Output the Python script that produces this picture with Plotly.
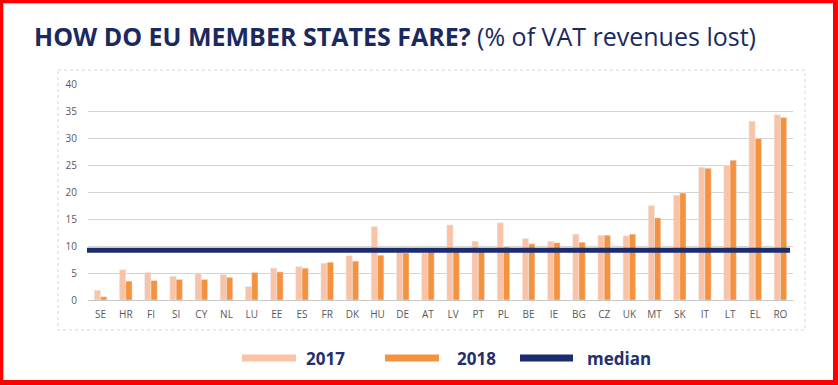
import plotly.graph_objects as go

countries = ["SE", "HR", "FI", "SI", "CY", "NL", "LU", "EE", "ES", "FR", "DK", "HU", "DE", "AT",
             "LV", "PT", "PL", "BE", "IE", "BG", "CZ", "UK", "MT", "SK", "IT", "LT", "EL", "RO"]
gap_2017 = [1.8, 5.6, 5.1, 4.4, 5.0, 4.7, 2.5, 5.9, 6.2, 6.8, 8.2, 13.6, 9.0, 8.7,
            13.9, 10.9, 14.3, 11.4, 10.9, 12.2, 12.0, 11.9, 17.5, 19.4, 24.6, 24.9, 33.1, 34.3]
gap_2018 = [0.6, 3.5, 3.6, 3.8, 3.8, 4.2, 5.1, 5.2, 5.9, 7.0, 7.2, 8.3, 8.7, 8.9,
            9.3, 9.5, 9.8, 10.4, 10.6, 10.7, 12.0, 12.2, 15.2, 19.8, 24.4, 25.9, 29.9, 33.8]
median_value = 9.2
y_ticks = [0, 5, 10, 15, 20, 25, 30, 35, 40]
legend_labels = ["2017", "2018", "median"]

C17 = "#fac3a6"
C18 = "#f5923e"
CMED = "#1c2d6e"
NAVY = "#1b2a5e"

W, H = 838, 385
L, R, T, B = 88, 45, 84, 85
PW, PH = W - L - R, H - T - B


def px(x):
    return (x - L) / PW


def py(y):
    return (H - B - y) / PH


fig = go.Figure()
fig.add_trace(go.Bar(x=countries, y=gap_2017, name=legend_labels[0], marker_color=C17,
                     showlegend=False))
fig.add_trace(go.Bar(x=countries, y=gap_2018, name=legend_labels[1], marker_color=C18,
                     showlegend=False))

shapes = []
# median line
shapes.append(dict(type="line", xref="paper", yref="y", x0=px(87), x1=px(790),
                   y0=median_value, y1=median_value, line=dict(color=CMED, width=5)))
# inner light box
shapes.append(dict(type="rect", xref="paper", yref="paper", x0=px(58), x1=px(805),
                   y0=py(70), y1=py(330), line=dict(color="#d6d6d6", width=1, dash="dot"),
                   layer="below"))
# red frame
for (x0, y0, x1, y1) in [(0, 0, 3.3, H), (0, 0, W, 3.3), (833, 0, W, H), (0, 380, W, H)]:
    shapes.append(dict(type="rect", xref="paper", yref="paper", x0=px(x0), x1=px(x1),
                       y0=py(y0), y1=py(y1), line=dict(width=0), fillcolor="#ff0000"))

annotations = []
# legend
legend_items = [(242, 296, 304, C17), (385, 439, 455, C18), (520, 573, 585, CMED)]
for (sx0, sx1, tx, col), lab in zip(legend_items, legend_labels):
    shapes.append(dict(type="rect", xref="paper", yref="paper", x0=px(sx0), x1=px(sx1),
                       y0=py(361.5), y1=py(354.5), line=dict(width=0), fillcolor=col))
    annotations.append(dict(xref="paper", yref="paper", x=px(tx), y=py(358), xanchor="left",
                            yanchor="middle", showarrow=False, text="<b>" + lab + "</b>",
                            font=dict(family="Open Sans", size=17, color="#24306b")))

# title
annotations.append(dict(xref="paper", yref="paper", x=px(32), y=py(36), xanchor="left",
                        yanchor="middle", showarrow=False,
                        text="<b>HOW DO EU MEMBER STATES FARE?</b> (% of VAT revenues lost)",
                        font=dict(family="Open Sans", size=25, color=NAVY)))

fig.update_layout(
    width=W, height=H,
    margin=dict(l=L, r=R, t=T, b=B, pad=0),
    paper_bgcolor="white", plot_bgcolor="white",
    barmode="group", bargap=0.5, bargroupgap=0,
    showlegend=False,
    shapes=shapes, annotations=annotations,
    font=dict(family="Open Sans", size=10, color="#595959"),
)
fig.update_xaxes(showgrid=False, showline=False, ticks="", tickfont=dict(size=10, color="#595959"),
                 ticklabelstandoff=7)
fig.update_yaxes(range=[0, 40], tickvals=y_ticks, showgrid=True, gridcolor="#d4d4d4", gridwidth=1,
                 zeroline=True, zerolinecolor="#c8c8c8", zerolinewidth=1, showline=False,
                 ticks="", tickfont=dict(size=10, color="#595959"), ticklabelstandoff=10)

fig.write_html("out.html", config={"displayModeBar": False},
               post_script="document.body.style.margin='0px';")
